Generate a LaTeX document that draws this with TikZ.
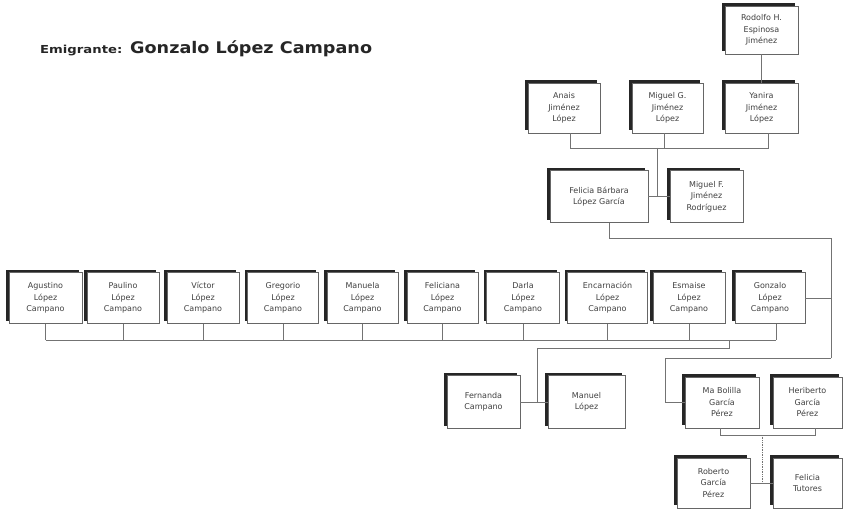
\documentclass[tikz,border=0pt]{standalone}
\usepackage{fontspec}
\setmainfont{DejaVu Sans}
\newfontfamily\widebold[FakeStretch=1.2]{DejaVu Sans Bold}
\newfontfamily\namebold[FakeStretch=1.1]{DejaVu Sans Bold}
\usetikzlibrary{calc}
\tikzset{
  person/.style={draw=black!60, line width=0.6pt, fill=white, align=center, inner sep=1pt,
    minimum width=72pt, minimum height=51pt, font=\fontsize{8}{11.5}\selectfont, text=black!75,
    preaction={fill=black!85, transform canvas={xshift=-2.8pt, yshift=2.8pt}}},
  link/.style={draw=black!55, line width=0.7pt},
  titlesmall/.style={anchor=base west, inner sep=0pt, text=black!85, font=\widebold\fontsize{11}{13}\selectfont},
  titlebig/.style={anchor=base west, inner sep=0pt, text=black!85, font=\namebold\fontsize{16}{19}\selectfont},
}
\begin{document}
\begin{tikzpicture}[x=1pt, y=-1pt]
\useasboundingbox (0,0) rectangle (843,510);
\fill[white] (0,0) rectangle (843,510);
% title
\node[titlesmall] (emi) at (40,54) {Emigrante:};
\node[titlebig] (name) at (130,54) {Gonzalo López Campano};
% upper generations
\node[person, minimum width=73pt, minimum height=48pt] (rod) at (761.5,30) {Rodolfo H.\\Espinosa\\Jiménez};
\node[person, minimum height=50pt] (ana) at (564,108) {Anais\\Jiménez\\López};
\node[person, minimum width=71pt, minimum height=50pt] (mig) at (667.5,108) {Miguel G.\\Jiménez\\López};
\node[person, minimum width=73pt, minimum height=50pt] (yan) at (761.5,108) {Yanira\\Jiménez\\López};
\node[person, minimum width=98pt, minimum height=52pt] (feb) at (599,196.5) {Felicia Bárbara\\López García};
\node[person, minimum width=73pt, minimum height=52pt] (mif) at (706.5,196.5) {Miguel F.\\Jiménez\\Rodríguez};
% siblings row
\node[person, minimum width=73pt] (agu) at (45.5,298) {Agustino\\López\\Campano};
\node[person] (pau) at (123,298) {Paulino\\López\\Campano};
\node[person] (vic) at (203,298) {Víctor\\López\\Campano};
\node[person, minimum width=71pt] (gre) at (283,298) {Gregorio\\López\\Campano};
\node[person, minimum width=71pt] (man) at (362.5,298) {Manuela\\López\\Campano};
\node[person, minimum width=71pt] (fel) at (442.5,298) {Feliciana\\López\\Campano};
\node[person, minimum width=73pt] (dar) at (523,298) {Darla\\López\\Campano};
\node[person, minimum width=80pt] (enc) at (607.5,298) {Encarnación\\López\\Campano};
\node[person] (esm) at (689,298) {Esmaise\\López\\Campano};
\node[person, minimum width=70pt] (gon) at (770,298) {Gonzalo\\López\\Campano};
% parents
\node[person, minimum width=73pt, minimum height=53pt] (fer) at (483.5,402) {Fernanda\\Campano};
\node[person, minimum width=77pt, minimum height=53pt] (mal) at (586.5,402) {Manuel\\López};
% spouse and children
\node[person, minimum width=74pt] (mab) at (722,402.5) {Ma Bolilla\\García\\Pérez};
\node[person, minimum width=69pt] (her) at (807.5,402.5) {Heriberto\\García\\Pérez};
\node[person, minimum width=73pt, minimum height=50pt] (rob) at (713.5,483) {Roberto\\García\\Pérez};
\node[person, minimum width=69pt, minimum height=50pt] (fet) at (807.5,483) {Felicia\\Tutores};
% helper coordinates
\coordinate (ua) at (570,148);
\coordinate (um) at (664,148);
\coordinate (uy) at (768,148);
\coordinate (uc) at (657,148);
\coordinate (fd) at (609,238);
\coordinate (fr) at (831,238);
\coordinate (sr) at (831,358);
\coordinate (sl) at (665,358);
\coordinate (cb) at (0,340);
\coordinate (gk) at (776,340);
\coordinate (pk) at (537,348);
\coordinate (pm) at (729,348);
\coordinate (pn) at (729,340);
\coordinate (ma) at (720,435);
\coordinate (hb) at (815,435);
\coordinate (mc) at (762,435);
% connectors
\draw[link] (rod.south) -- (yan.north);
\draw[link] (ana.south -| ua) -- (ua) -- (uy) -- (yan.south -| uy);
\draw[link] (mig.south -| um) -- (um);
\draw[link] (feb.east) -- (mif.west);
\draw[link] (uc) -- (uc |- feb.east);
\draw[link] (feb.south -| fd) -- (fd) -- (fr) -- (sr);
\draw[link] (gon.east) -- (gon.east -| sr);
\draw[link] (sr) -- (sl) -- (sl |- mab.west) -- (mab.west);
\foreach \n in {agu,pau,vic,gre,man,fel,dar,enc,esm}
  \draw[link] (\n.south) -- (\n.south |- cb);
\draw[link] (gon.south -| gk) -- (gk);
\draw[link] (agu.south |- cb) -- (gk);
\draw[link] (fer.east) -- (mal.west);
\draw[link] (fer.east -| pk) -- (pk) -- (pm) -- (pn);
\draw[link] (mab.south -| ma) -- (ma) -- (hb) -- (her.south -| hb);
\draw[link, densely dotted] (mc) -- (mc |- rob.east);
\draw[link] (rob.east) -- (fet.west);
\end{tikzpicture}
\end{document}
